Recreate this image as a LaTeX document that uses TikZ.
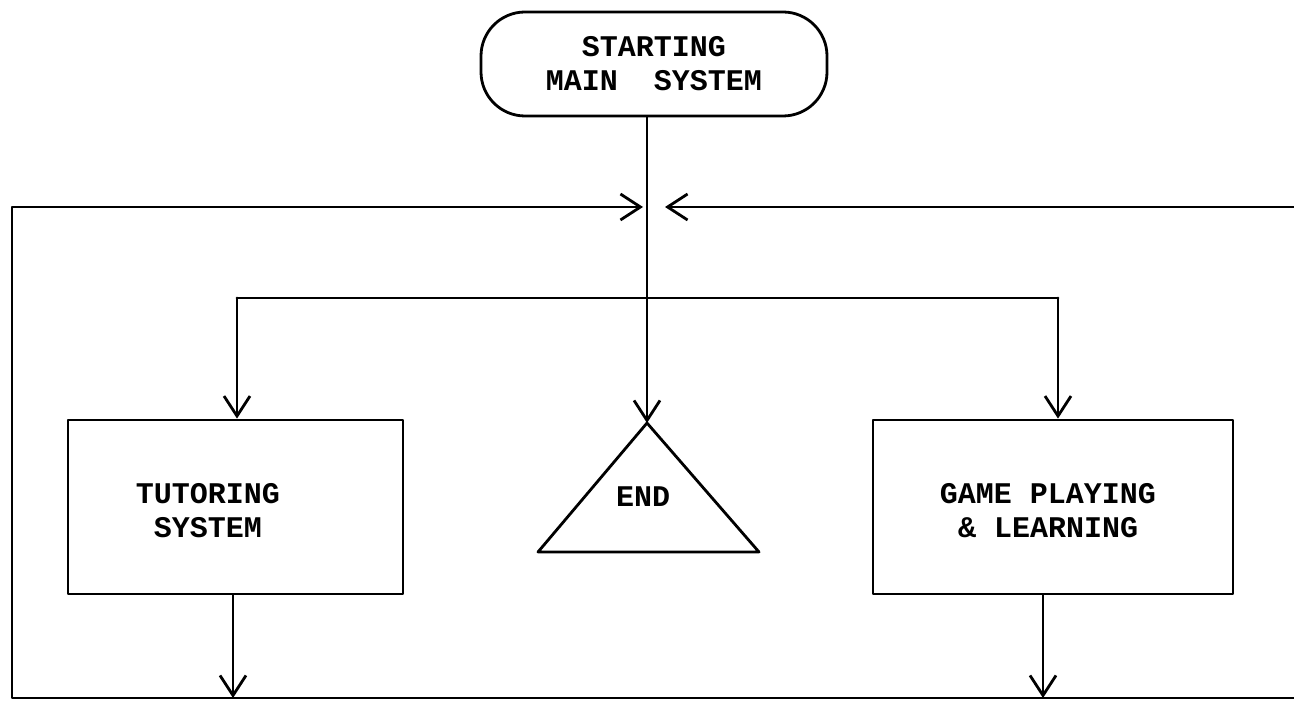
\documentclass[tikz,border=0pt]{standalone}
\usepackage{fontspec}
\newfontfamily\flowfont{Liberation Mono}
\usepackage{tikz}
\usetikzlibrary{arrows.meta}
\usetikzlibrary{positioning}

\begin{document}
\begin{tikzpicture}[line cap=round,line join=round,x=0.5pt,y=0.5pt,line width=1.4pt,
  every node/.style={font=\flowfont\bfseries\fontsize{15}{17}\selectfont,align=center},
  flowbox/.style={draw,rectangle,minimum width=#1,minimum height=87pt,inner sep=0pt},
  terminal/.style={draw,rectangle,rounded corners=22pt,minimum width=173pt,minimum height=52pt},
  flowarrow/.style={-{Straight Barb[length=10pt,width=13pt]}}]
\useasboundingbox (0,0) rectangle (1294,701);
% nodes
\node[terminal] (start) at (654,637) {STARTING\\MAIN\ \ SYSTEM};
\node[flowbox=167.5pt] (tutor) at (235.5,194) {};
\node at (208,190) (tutortext) {TUTORING\\SYSTEM};
\node[flowbox=180pt] (game) at (1053,194) {};
\node at (1048,190) (gametext) {GAME PLAYING\\\& LEARNING};
\node (end) at (643,204) {END};
% triangle
\coordinate (endtop) at (647,278);
\coordinate (endleft) at (538,149);
\coordinate (endright) at (759,149);
\draw (endtop) -- (endleft) -- (endright) -- cycle;
% junctions
\coordinate (hub) at (647,494);
\coordinate (loopTL) at (12,494);
\coordinate (loopBL) at (12,3);
\coordinate (loopBR) at (1294,3);
\coordinate (loopTR) at (1294,494);
\coordinate (branchL) at (237,403);
\coordinate (branchR) at (1058,403);
% connectors
\draw (start.south -| hub) -- (hub);
\draw[flowarrow] (hub) -- (endtop);
\draw (branchL) -- (branchR);
\draw[flowarrow] (branchL) -- (tutor.north -| branchL);
\draw[flowarrow] (branchR) -- (game.north -| branchR);
\draw[flowarrow] (tutor.south -| 233,0) -- (loopBL -| 233,0);
\draw[flowarrow] (game.south -| 1043,0) -- (loopBL -| 1043,0);
\draw[flowarrow] (loopBR) -- (loopBL) -- (loopTL) -- ([xshift=-2pt]hub);
\draw[flowarrow] (loopTR) -- ([xshift=9pt]hub);
\end{tikzpicture}
\end{document}
